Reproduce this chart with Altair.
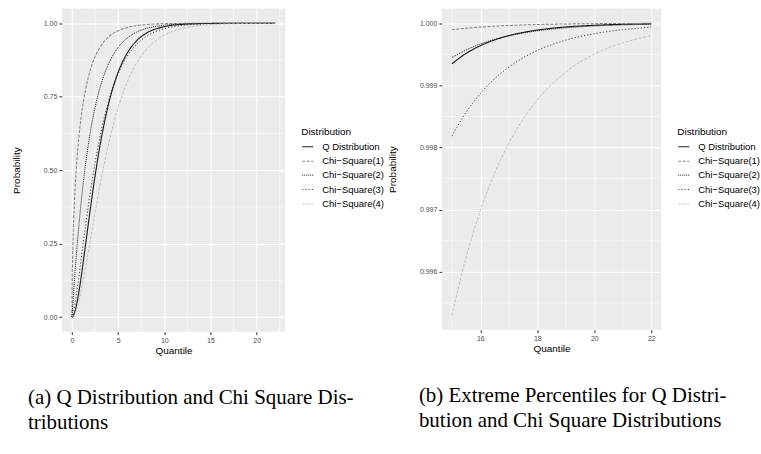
import altair as alt
import pandas as pd

series_names = ["Q Distribution", "Chi\u2212Square(1)", "Chi\u2212Square(2)", "Chi\u2212Square(3)", "Chi\u2212Square(4)"]

quantile = [0, 0.02, 0.05, 0.1, 0.25, 0.5, 0.75, 1, 1.5, 2, 2.5, 3, 4, 5, 6, 7, 8, 10, 12, 14,
            15, 15.5, 16, 16.5, 17, 17.5, 18, 19, 20, 21, 22]

q_dist = [0, 0.000084, 0.00051, 0.0019, 0.0117, 0.0422, 0.0858, 0.1376, 0.2533, 0.3709, 0.4805, 0.5777,
          0.7302, 0.8332, 0.8993, 0.9403, 0.9651, 0.9884, 0.99627, 0.998826,
          0.999345, 0.999513, 0.999637, 0.999730, 0.999799, 0.999851, 0.999889, 0.999939, 0.999966, 0.999982, 0.999990]
chisq1 = [0, 0.1125, 0.1769, 0.2482, 0.3829, 0.5205, 0.6135, 0.6827, 0.7793, 0.8427, 0.8862, 0.9167,
          0.9545, 0.97465, 0.98569, 0.99185, 0.99532, 0.998435, 0.999468, 0.999817,
          0.999893, 0.999918, 0.999937, 0.999951, 0.999963, 0.999971, 0.999978, 0.999987, 0.999992, 0.999995, 0.999997]
chisq2 = [0, 0.00995, 0.02469, 0.04877, 0.1175, 0.2212, 0.3127, 0.3935, 0.5276, 0.6321, 0.7135, 0.7769,
          0.8647, 0.9179, 0.9502, 0.9698, 0.9817, 0.993262, 0.997521, 0.999088,
          0.999447, 0.999569, 0.999665, 0.999739, 0.999797, 0.999842, 0.999877, 0.999925, 0.999955, 0.999972, 0.999983]
chisq3 = [0, 0.00075, 0.0029, 0.0082, 0.0308, 0.0811, 0.1386, 0.1987, 0.3177, 0.4276, 0.5247, 0.6084,
          0.7385, 0.8282, 0.8884, 0.9281, 0.9540, 0.981434, 0.992617, 0.997095,
          0.998183, 0.998565, 0.998866, 0.999105, 0.999293, 0.999442, 0.999560, 0.999727, 0.999830, 0.999895, 0.999935]
chisq4 = [0, 0.00005, 0.00031, 0.0012, 0.0072, 0.0265, 0.0550, 0.0902, 0.1733, 0.2642, 0.3554, 0.4422,
          0.5940, 0.7127, 0.8009, 0.8641, 0.9084, 0.959572, 0.982649, 0.992705,
          0.995299, 0.996231, 0.996981, 0.997583, 0.998067, 0.998455, 0.998766, 0.999214, 0.999501, 0.999683, 0.999800]

left_x_ticks = [0, 5, 10, 15, 20]
left_x_minor = [2.5, 7.5, 12.5, 17.5, 22.5]
left_y_ticks = [0.0, 0.25, 0.5, 0.75, 1.0]
left_y_minor = [0.125, 0.375, 0.625, 0.875]
right_x_ticks = [16, 18, 20, 22]
right_x_minor = [15, 17, 19, 21]
right_y_ticks = [0.996, 0.997, 0.998, 0.999, 1.0]
right_y_minor = [0.9955, 0.9965, 0.9975, 0.9985, 0.9995]

caption_a = ["(a) Q Distribution and Chi Square Dis-", "tributions"]
caption_b = ["(b) Extreme Percentiles for Q Distri-", "bution and Chi Square Distributions"]

rows = []
for name, vals in zip(series_names, [q_dist, chisq1, chisq2, chisq3, chisq4]):
    for x, p in zip(quantile, vals):
        rows.append({"Quantile": x, "Probability": p, "Distribution": name})
df = pd.DataFrame(rows)

line_colors = ["#1a1a1a", "#808080", "#111111", "#2b2b2b", "#b5b5b5"]
line_dashes = [[1, 0], [3, 1.5], [1, 1], [1.2, 2], [3, 1.5]]
line_widths = [1.1, 0.8, 1.0, 1.0, 0.8]

FONT = "Liberation Sans"


def panel(data, xdom, ydom, xticks, xminor, yticks, yminor, yfmt, w, h,
          lx, ly, caption, cap_dx, ytpad):
    xs = alt.Scale(domain=xdom, nice=False, zero=False)
    ys = alt.Scale(domain=ydom, nice=False, zero=False)
    xaxis = alt.Axis(values=xticks, format="d", title="Quantile", titlePadding=2)
    yaxis = alt.Axis(values=yticks, format=yfmt, title="Probability", titlePadding=ytpad)
    leg = alt.Legend(title="Distribution", orient="none", legendX=lx, legendY=ly,
                     titleFont=FONT, labelFont=FONT, titleFontSize=10, labelFontSize=9.5,
                     titleFontWeight="normal", titleColor="black", labelColor="black",
                     symbolType="stroke", symbolSize=121, symbolStrokeWidth=1.1,
                     rowPadding=3.5, titlePadding=3, labelOffset=8)
    vminor = alt.Chart(pd.DataFrame({"Quantile": xminor})).mark_rule(color="white", strokeWidth=0.5).encode(
        x=alt.X("Quantile:Q", scale=xs, axis=xaxis))
    hminor = alt.Chart(pd.DataFrame({"Probability": yminor})).mark_rule(color="white", strokeWidth=0.5).encode(
        y=alt.Y("Probability:Q", scale=ys, axis=yaxis))
    lines = alt.Chart(data).mark_line(interpolate="monotone", clip=True).encode(
        x=alt.X("Quantile:Q", scale=xs, axis=xaxis),
        y=alt.Y("Probability:Q", scale=ys, axis=yaxis),
        color=alt.Color("Distribution:N", sort=series_names,
                        scale=alt.Scale(domain=series_names, range=line_colors), legend=leg),
        strokeDash=alt.StrokeDash("Distribution:N", sort=series_names,
                                  scale=alt.Scale(domain=series_names, range=line_dashes), legend=leg),
        strokeWidth=alt.StrokeWidth("Distribution:N",
                                    scale=alt.Scale(domain=series_names, range=line_widths), legend=None),
    )
    return alt.layer(vminor, hminor, lines).properties(
        width=w, height=h,
        title=alt.TitleParams(text=caption, orient="bottom", anchor="start", frame="group",
                              dx=cap_dx, offset=31, font="Liberation Serif", fontSize=21,
                              fontWeight="normal", color="black", lineHeight=26, baseline="top"))


left = panel(df, [-1.1, 23.1], [-0.05, 1.05], left_x_ticks, left_x_minor, left_y_ticks, left_y_minor,
             ".2f", 224, 324, 240, 119, caption_a, -34, 22)
right = panel(df[df["Quantile"] >= 15], [14.65, 22.35], [0.99507, 1.000235], right_x_ticks, right_x_minor,
              right_y_ticks, right_y_minor, ".3f", 220, 322, 236, 119, caption_b, -23, 22)

chart = alt.hconcat(left, right, spacing=2).resolve_scale(
    color="independent", strokeDash="independent", strokeWidth="independent"
).resolve_legend(color="independent", strokeDash="independent").properties(
    padding={"left": 11, "top": 7, "right": 0, "bottom": 0}, background="white"
).configure_view(fill="#EBEBEB", strokeWidth=0).configure_axis(
    domain=False, tickColor="#333333", tickSize=3, labelColor="#4D4D4D", labelFontSize=7,
    labelFont=FONT, titleFont=FONT, titleFontSize=10, titleFontWeight="normal", titleColor="black",
    gridColor="white", gridWidth=1, labelPadding=2
)

chart.save("out.html", embed_options={"renderer": "svg", "actions": False})
